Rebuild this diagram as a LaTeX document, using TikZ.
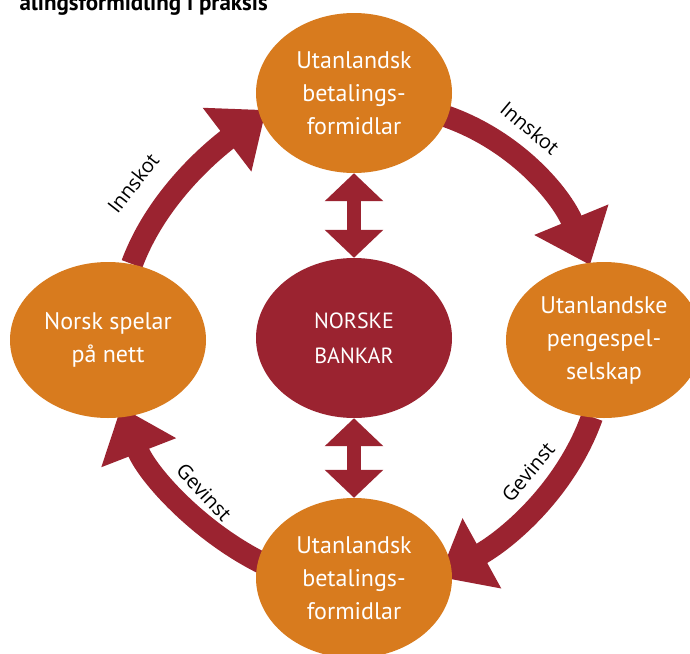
\documentclass[tikz,border=0pt]{standalone}
\usepackage{fontspec}
\setmainfont{PT Sans}
\newfontfamily\lblfont{Open Sans}
\usetikzlibrary{shapes.geometric,arrows.meta}
\definecolor{orng}{RGB}{216,123,30}
\definecolor{dred}{RGB}{155,35,48}
\pgfdeclarelayer{bg}
\pgfsetlayers{bg,main}
\begin{document}
\begin{tikzpicture}[x=1pt,y=-1pt,
  blob/.style={ellipse, fill=orng, minimum width=196pt, minimum height=160pt, inner sep=0pt, align=center, text=white, font=\fontsize{24}{33}\selectfont},
  bank/.style={blob, fill=dred, font=\fontsize{22}{35}\selectfont},
  flow/.style={draw=dred, line width=22pt, -{Triangle[width=77pt,length=49pt]}},
  link/.style={draw=dred, line width=14pt, {Triangle[width=57pt,length=28pt]}-{Triangle[width=57pt,length=28pt]}},
  lbl/.style={font=\lblfont\fontsize{20}{22}\selectfont, text=black, inner sep=0pt}
]
\useasboundingbox (0,0) rectangle (690,653);
\begin{scope}
\clip (0,0) rectangle (690,653);
\node[anchor=base east, inner sep=0pt, font=\bfseries\fontsize{23}{26}\selectfont] (title) at (268,10) {alingsformidling i praksis};
\end{scope}
\node[blob] (T) at (354,93) {Utanlandsk\\betalings-\\formidlar};
\node[blob, minimum height=156pt] (L) at (108,340) {Norsk spelar\\på nett};
\node[bank] (C) at (354,338) {NORSKE\\BANKAR};
\node[blob, minimum height=156pt] (R) at (604,340) {Utanlandske\\pengespel-\\selskap};
\node[blob] (B) at (354,578) {Utanlandsk\\betalings-\\formidlar};
\begin{pgfonlayer}{bg}
\fill[white] (0,0) rectangle (690,653);
\draw[flow] ([shift={(24,-76)}]L.center) .. controls +(24.5,-66) and +(-55.6,42.4) .. ([shift={(-88,17)}]T.center);
\draw[flow] ([shift={(91,23)}]T.center) .. controls +(71,24.5) and +(-28.5,-69.3) .. ([shift={(-14,-75)}]R.center);
\draw[flow] ([shift={(-12,77)}]R.center) .. controls +(-26,73) and +(68,-37.5) .. ([shift={(85,-1)}]B.center);
\draw[flow] ([shift={(-92,-15)}]B.center) .. controls +(-64,-32) and +(26,67) .. ([shift={(13,67)}]L.center);
\draw[link] (T.south) -- (C.north);
\draw[link] (C.south) -- (B.north);
\end{pgfonlayer}
\node[lbl, rotate=52] (i1) at (133,183) {Innskot};
\node[lbl, rotate=-40] (i2) at (530,128) {Innskot};
\node[lbl, rotate=-47] (g1) at (204,492) {Gevinst};
\node[lbl, rotate=50] (g2) at (528,472) {Gevinst};
\end{tikzpicture}
\end{document}
